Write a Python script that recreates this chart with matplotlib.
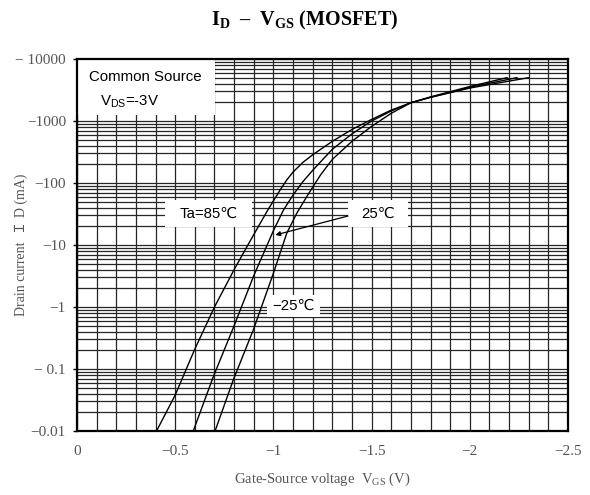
import matplotlib
matplotlib.use("Agg")
import matplotlib.pyplot as plt
import numpy as np
from matplotlib.ticker import FixedLocator, LogLocator, NullFormatter, FixedFormatter
from matplotlib.patches import Rectangle

# ---------------- data ----------------
# Gate-source voltage (V) and drain current magnitude (mA); currents are negative in the chart
vgs_85 = [-0.405, -0.50, -0.60, -0.70, -0.80, -0.87, -0.92, -0.97, -1.034, -1.068, -1.10,
          -1.15, -1.20, -1.30, -1.40, -1.50, -1.60, -1.70, -1.80, -2.00, -2.30]
id_85 = [0.01, 0.038, 0.21, 1.0, 4.0, 10, 19, 36, 77, 112, 150,
         215, 285, 470, 730, 1060, 1500, 1970, 2400, 3400, 5000]

vgs_25 = [-0.592, -0.694, -0.80, -0.90, -1.00, -1.05, -1.10, -1.15, -1.20, -1.30, -1.40,
          -1.50, -1.60, -1.70, -1.80, -2.00, -2.24]
id_25 = [0.01, 0.075, 0.5, 3.2, 17, 36, 64, 105, 160, 350, 620,
         1000, 1450, 1970, 2420, 3500, 5000]

vgs_m25 = [-0.703, -0.796, -0.898, -1.00, -1.068, -1.12, -1.18, -1.24, -1.30, -1.40,
           -1.50, -1.60, -1.70, -1.80, -2.00, -2.19]
id_m25 = [0.01, 0.067, 0.43, 3.5, 15.5, 33, 68, 135, 240, 470,
          820, 1330, 1970, 2450, 3600, 5000]

x_ticks = [0, -0.5, -1, -1.5, -2, -2.5]
x_tick_labels = ["0", "\u22120.5", "\u22121", "\u22121.5", "\u22122", "\u22122.5"]
y_ticks = [0.01, 0.1, 1, 10, 100, 1000, 10000]
y_tick_labels = ["\u22120.01", "\u2212 0.1", "\u22121", "\u221210", "\u2212100", "\u22121000", "\u2212 10000"]

title_text = "I$_\\mathregular{D}$  \u2013  V$_\\mathregular{GS}$ (MOSFET)"
xlabel_text = "Gate\u2010Source voltage  V$_\\mathregular{GS}$ (V)"
ylabel_text = "Drain current  \uff29 D (mA)"

# ---------------- figure ----------------
plt.rcParams["mathtext.fontset"] = "custom"
plt.rcParams["mathtext.rm"] = "Liberation Serif"
plt.rcParams["mathtext.it"] = "Liberation Serif:italic"
plt.rcParams["mathtext.bf"] = "Liberation Serif:bold"

serif = ["Liberation Serif", "DejaVu Serif", "Noto Sans CJK JP"]
sans = ["Liberation Sans", "DejaVu Sans"]
label_grey = "#555555"

fig = plt.figure(figsize=(5.9, 4.95), dpi=100)
ax = fig.add_axes([77 / 590, 1 - 431 / 495, 491 / 590, 372 / 495])
ax.set_yscale("log")
ax.set_xlim(0, -2.5)
ax.set_ylim(0.01, 10000)

# grid
ax.xaxis.set_major_locator(FixedLocator(x_ticks))
ax.xaxis.set_major_formatter(FixedFormatter(x_tick_labels))
ax.xaxis.set_minor_locator(FixedLocator(np.round(np.arange(0, -2.51, -0.1), 2)))
ax.yaxis.set_major_locator(FixedLocator(y_ticks))
ax.yaxis.set_major_formatter(FixedFormatter(y_tick_labels))
ax.yaxis.set_minor_locator(LogLocator(base=10, subs=np.arange(2, 10), numticks=20))
ax.yaxis.set_minor_formatter(NullFormatter())
ax.grid(True, which="both", color="#262626", linewidth=0.9, zorder=0)
ax.set_axisbelow(True)

ax.tick_params(axis="x", which="both", length=0, pad=10, labelsize=11, labelcolor=label_grey)
ax.tick_params(axis="y", which="major", length=3, width=1, pad=5, labelsize=11, labelcolor=label_grey)
ax.tick_params(axis="y", which="minor", length=0)
for lab in ax.get_xticklabels() + ax.get_yticklabels():
    lab.set_family(serif)

for sp in ax.spines.values():
    sp.set_linewidth(1.6)
    sp.set_color("black")
    sp.set_zorder(5)

# curves
for v, i in [(vgs_85, id_85), (vgs_25, id_25), (vgs_m25, id_m25)]:
    ax.plot(v, i, color="black", linewidth=1.0, zorder=4)

# white label boxes
def wbox(x0, y0, x1, y1):
    ax.add_patch(Rectangle((x0, y0), x1 - x0, y1 - y0, transform=ax.transAxes,
                           facecolor="white", edgecolor="none", zorder=2))

wbox(0.0, 0.849, 0.281, 1.0)
wbox(0.179, 0.548, 0.356, 0.621)
wbox(0.552, 0.548, 0.674, 0.621)
wbox(0.387, 0.306, 0.495, 0.366)

fs_in = 10.8
ax.text(0.024, 0.952, "Common Source", transform=ax.transAxes, fontsize=fs_in,
        family=sans, ha="left", va="center", zorder=6)
ax.text(0.047, 0.884, "V$_\\mathregular{DS}$=-3V", transform=ax.transAxes, fontsize=fs_in,
        family=sans, ha="left", va="center", zorder=6)
ax.text(0.268, 0.584, "Ta=85\u2103", transform=ax.transAxes, fontsize=fs_in,
        family=sans, ha="center", va="center", zorder=6)
ax.text(0.613, 0.584, "25\u2103", transform=ax.transAxes, fontsize=fs_in,
        family=sans, ha="center", va="center", zorder=6)
ax.text(0.441, 0.336, "\u221225\u2103", transform=ax.transAxes, fontsize=fs_in,
        family=sans, ha="center", va="center", zorder=6)

ax.annotate("", xy=(-1.01, 14.5), xycoords="data",
            xytext=(0.552, 0.578), textcoords="axes fraction",
            arrowprops=dict(arrowstyle="-|>", color="black", lw=0.9,
                            mutation_scale=7, shrinkA=0, shrinkB=0),
            zorder=6)

fig.text(305 / 590, 1 - 20 / 495, title_text, ha="center", va="center",
         fontsize=14.5, family=serif, color="black", fontweight="bold")
fig.text(322 / 590, 1 - 479 / 495, xlabel_text, ha="center", va="center",
         fontsize=10.5, family=serif, color=label_grey)
fig.text(21 / 590, 1 - 245 / 495, ylabel_text, ha="center", va="center",
         rotation=90, fontsize=10, family=serif, color=label_grey)

fig.savefig("out.png", dpi=100)
